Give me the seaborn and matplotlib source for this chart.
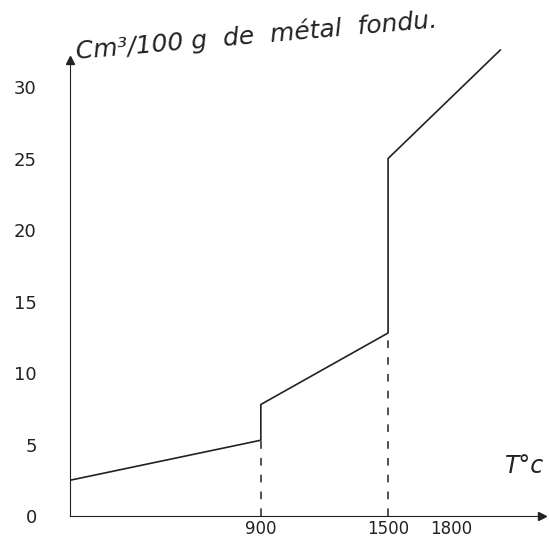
import matplotlib
matplotlib.use('Agg')
import pandas as pd
import matplotlib.pyplot as plt
import seaborn as sns

# Volume of gas dissolved per 100 g of molten metal vs temperature
temp_c = [0, 900, 900, 1500, 1500, 2030]
volume = [2.5, 5.3, 7.8, 12.8, 25.0, 32.6]
x_ticks = [900, 1500, 1800]
x_labels = ['900', '1500', '1800']
y_ticks = [0, 5, 10, 15, 20, 25, 30]

df = pd.DataFrame({'T': temp_c, 'vol': volume})

sns.set_style('white')
plt.rcParams['font.family'] = ['DejaVu Sans']

fig = plt.figure(figsize=(5.49, 5.42), dpi=100)
ax = fig.add_axes([70 / 549, 26 / 542, 472 / 549, 479 / 542])

sns.lineplot(data=df, x='T', y='vol', estimator=None, sort=False,
             color='#222222', linewidth=1.2, ax=ax)

# dashed drop lines at the two jumps
for t, v in [(temp_c[1], volume[1]), (temp_c[3], volume[3])]:
    ax.plot([t, t], [0, v], color='#222222', linewidth=1.1,
            linestyle=(0, (5, 6)))

ax.set_xlim(0, 2226)
ax.set_ylim(0, 33.5)
ax.set_xlabel('')
ax.set_ylabel('')

ax.set_xticks(x_ticks)
ax.set_xticklabels(x_labels)
ax.set_yticks(y_ticks)
ax.set_yticklabels([str(v) for v in y_ticks])
ax.tick_params(axis='y', direction='inout', length=8, width=1, pad=20,
               labelsize=13, colors='#222222')
ax.tick_params(axis='x', direction='in', length=5, width=1, pad=3,
               labelsize=12, colors='#222222')

for side in ['top', 'right']:
    ax.spines[side].set_visible(False)
ax.spines['left'].set_bounds(0, 31.9)
ax.spines['left'].set_color('#222222')
ax.spines['bottom'].set_color('#222222')

# arrow heads on the axes
ax.plot(0, 31.9, marker='^', color='#222222', markersize=6, clip_on=False)
ax.plot(2226, 0, marker='>', color='#222222', markersize=6, clip_on=False)

fig.text(75 / 549, 1 - 64 / 542, 'Cm³/100 g  de  métal  fondu.',
         fontsize=18, style='italic', rotation=5, color='#222222',
         ha='left', va='bottom')
fig.text(505 / 549, 1 - 478 / 542, 'T°c', fontsize=17, style='italic',
         color='#222222', ha='left', va='bottom')

fig.savefig('out.png', dpi=100)
